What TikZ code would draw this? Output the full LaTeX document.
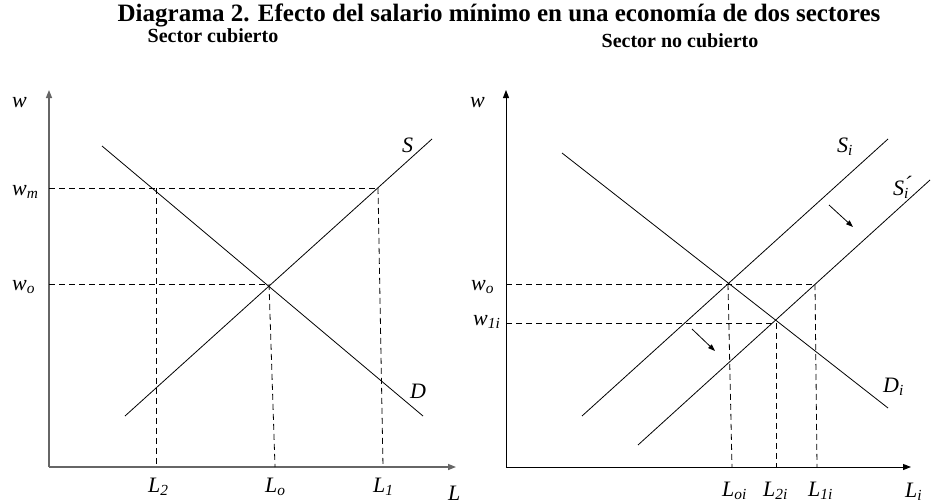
\documentclass[tikz,border=0pt]{standalone}
\usepackage{fontspec}
\setmainfont{Liberation Serif}
\usetikzlibrary{arrows.meta}
\newcommand\lb[2]{\textit{#1}\textsubscript{\textit{#2}}}
\begin{document}
\begin{tikzpicture}[x=1pt,y=-1pt,
  curve/.style={line width=0.8pt},
  guide/.style={line width=0.8pt,dash pattern=on 6pt off 4pt},
  axisL/.style={line width=1.4pt,draw=black!60,-{Triangle[length=8pt,width=6pt]}},
  axisR/.style={line width=1pt,-{Triangle[length=8pt,width=6pt]}},
  shift arrow/.style={line width=0.8pt,-{Triangle[length=7pt,width=5pt]}},
  lab/.style={font=\fontsize{22}{24}\selectfont\itshape,inner sep=0pt,anchor=base west},
  ttl/.style={font=\fontsize{25}{28}\selectfont\bfseries,inner sep=0pt,anchor=base},
  sub/.style={font=\fontsize{20}{22}\selectfont\bfseries,inner sep=0pt,anchor=base}]
\useasboundingbox (0,0) rectangle (931,503);
% titles
\node[ttl] (title) at (499,22) {Diagrama 2. Efecto del salario mínimo en una economía de dos sectores};
\node[sub] (subL) at (213,43) {Sector cubierto};
\node[sub] (subR) at (680,48) {Sector no cubierto};
% ---- left panel ----
\coordinate (oL) at (49,467);
\coordinate (yL) at (49,90);
\coordinate (xL) at (456,467);
\draw[axisL] (oL) -- (yL);
\draw[axisL] (oL) -- (xL);
\coordinate (D1) at (102,146);
\coordinate (D2) at (423,416);
\coordinate (S1) at (125,416);
\coordinate (S2) at (432,139);
\draw[curve] (D1) -- (D2);
\draw[curve] (S1) -- (S2);
\coordinate (wmA) at (49,188);
\coordinate (wmD) at (156,188);
\coordinate (wmS) at (378,188);
\coordinate (woA) at (49,284);
\coordinate (E) at (269,284);
\draw[guide] (wmA) -- (wmS);
\draw[guide] (woA) -- (E);
\coordinate (L2b) at (156,467);
\coordinate (Lob) at (275,467);
\coordinate (L1b) at (383,467);
\draw[guide] (wmD) -- (L2b);
\draw[guide] (E) -- (Lob);
\draw[guide] (wmS) -- (L1b);
\node[lab] (w) at (12,107) {w};
\node[lab] (wm) at (12,195) {\lb{w}{m}};
\node[lab] (wo) at (12,290) {\lb{w}{o}};
\node[lab] (Slab) at (402,152) {S};
\node[lab] (Dlab) at (410,398) {D};
\node[lab] (L2) at (148,492) {\lb{L}{2}};
\node[lab] (Lo) at (265,492) {\lb{L}{o}};
\node[lab] (L1) at (373,492) {\lb{L}{1}};
\node[lab] (L) at (448,500) {L};
% ---- right panel ----
\coordinate (oR) at (506,467);
\coordinate (yR) at (506,90);
\coordinate (xR) at (911,467);
\draw[axisR] (oR) -- (yR);
\draw[axisR] (oR) -- (xR);
\coordinate (Di1) at (562,153);
\coordinate (Di2) at (888,408);
\coordinate (Si1) at (582,416);
\coordinate (Si2) at (888,139);
\coordinate (Sp1) at (638,445);
\coordinate (Sp2) at (930,180);
\draw[curve] (Di1) -- (Di2);
\draw[curve] (Si1) -- (Si2);
\draw[curve] (Sp1) -- (Sp2);
\coordinate (woRA) at (506,284);
\coordinate (ER) at (728,284);
\coordinate (FR) at (815,284);
\coordinate (w1A) at (506,323);
\coordinate (GR) at (776,323);
\draw[guide] (woRA) -- (FR);
\draw[guide] (w1A) -- (GR);
\coordinate (Loib) at (732,467);
\coordinate (L2ib) at (776,467);
\coordinate (L1ib) at (817,467);
\draw[guide] (ER) -- (Loib);
\draw[guide] (GR) -- (L2ib);
\draw[guide] (FR) -- (L1ib);
\coordinate (a1s) at (829,205);
\coordinate (a1e) at (853,227);
\coordinate (a2s) at (692,329);
\coordinate (a2e) at (715,351);
\draw[shift arrow] (a1s) -- (a1e);
\draw[shift arrow] (a2s) -- (a2e);
\node[lab] (wR) at (470,107) {w};
\node[lab] (woR) at (471,290) {\lb{w}{o}};
\node[lab] (w1i) at (473,325) {\lb{w}{1i}};
\node[lab] (Silab) at (837,152) {\lb{S}{i}};
\node[lab] (Splab) at (893,195) {\textit{S}\rlap{\textsubscript{\textit{i}}}\raisebox{0.3ex}{´}};
\node[lab] (Dilab) at (883,392) {\lb{D}{i}};
\node[lab] (Loi) at (722,496) {\lb{L}{oi}};
\node[lab] (L2i) at (763,496) {\lb{L}{2i}};
\node[lab] (L1i) at (808,496) {\lb{L}{1i}};
\node[lab] (Li) at (905,497) {\lb{L}{i}};
\end{tikzpicture}
\end{document}
